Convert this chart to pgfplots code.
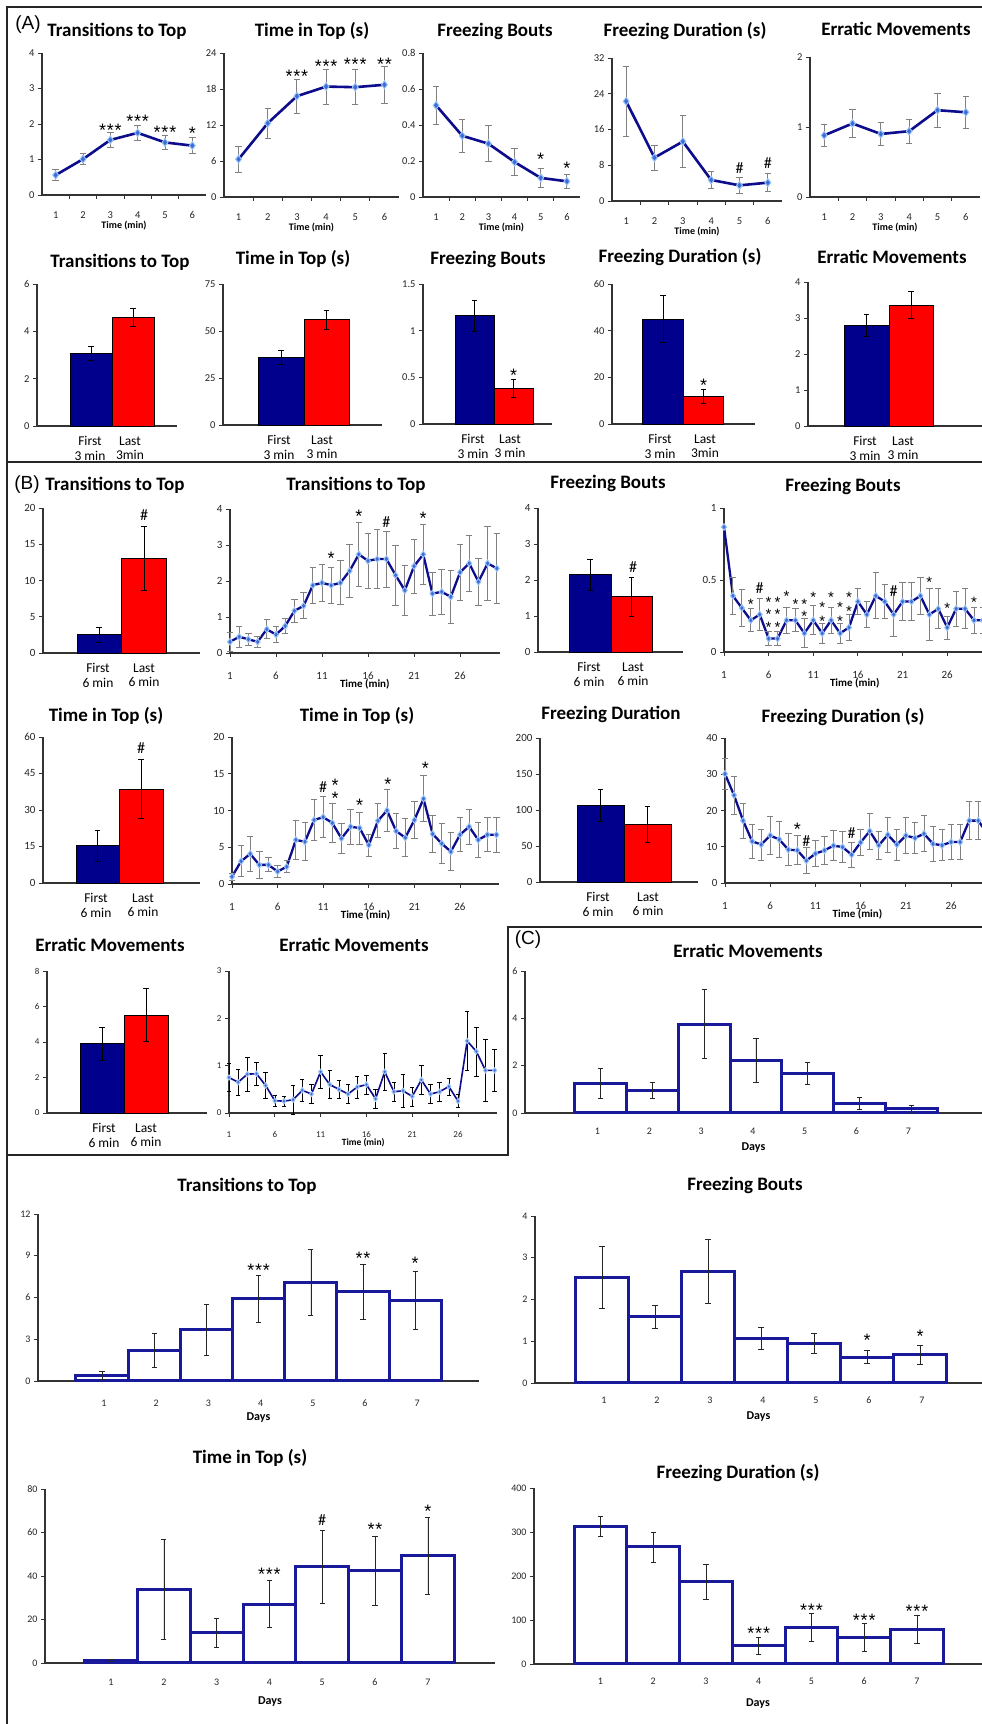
\documentclass[border=0pt]{standalone}
\usepackage{fontspec}
\setmainfont{Carlito}
\newfontfamily\arial{Liberation Sans}
\usepackage{pgfplots}
\pgfplotsset{compat=1.18}
\definecolor{navy}{RGB}{12,12,140}
\definecolor{mk}{RGB}{55,110,215}
\definecolor{mkglow}{RGB}{160,195,245}
\definecolor{barblue}{RGB}{0,0,140}
\definecolor{cblue}{RGB}{25,25,155}
\newcommand{\threestar}{*\kern0.8pt*\kern0.8pt*}
\newcommand{\twostar}{*\kern0.8pt*}
\tikzset{
  ttl/.style={font=\bfseries\fontsize{19}{21}\selectfont, inner sep=0pt},
  st/.style={font=\arial\fontsize{18}{18}\selectfont, inner sep=0pt, yshift=-3.5pt},
  sts/.style={font=\arial\fontsize{15}{15}\selectfont, inner sep=0pt, yshift=-3pt},
  hs/.style={font=\fontsize{16}{16}\selectfont, inner sep=0pt},
  frame/.style={line width=2.6pt, black!85},
}
\pgfplotsset{
  base/.style={scale only axis, anchor=south west,
    axis x line*=bottom, axis y line*=left,
    axis line style={line width=1.1pt, black!80},
    every tick/.append style={line width=0.9pt, black!80},
    tick align=outside, major tick length=4pt, minor tick length=4pt,
    ymin=0, clip=false,
    ticklabel style={font=\fontsize{10.5}{12}\selectfont, text=black!85},
    /pgf/number format/assume math mode=true,
    xlabel style={font=\bfseries\fontsize{10}{12}\selectfont, at={(axis description cs:0.5,0)}, anchor=center},
  },
  cat6/.style={xmin=0.5, xmax=6.5, xtick={1,2,3,4,5,6},
    minor xtick={1.5,2.5,3.5,4.5,5.5}, major x tick style={draw=none},
    xlabel={Time (min)}, xlabel style={yshift=-31pt},
    xticklabel style={anchor=center, yshift=-16pt}},
  min30/.style={xmin=1, xmax=30.3, xtick={1,6,11,16,21,26},
    xlabel={Time (min)}, xlabel style={yshift=-31pt, font=\bfseries\fontsize{11}{12}\selectfont},
    ticklabel style={font=\fontsize{11}{12}\selectfont},
    xticklabel style={anchor=center, yshift=-19pt}},
  bars/.style={xmin=0, major x tick style={draw=none},
    xticklabel style={align=center, anchor=north, font=\fontsize{13.5}{14.5}\selectfont, text=black, yshift=-3pt}},
  days/.style={xmin=0, major x tick style={draw=none}, xticklabels={1,2,3,4,5,6,7},
    xlabel={Days}, xlabel style={font=\bfseries\fontsize{12}{14}\selectfont},
    ticklabel style={font=\fontsize{10}{12}\selectfont}, xticklabel style={anchor=center}},
  lp/.style={navy, line width=2.6pt, mark=diamond*, mark size=3.9pt,
    mark options={fill=mk, draw=mkglow, line width=1pt},
    error bars/y dir=both, error bars/y explicit,
    error bars/error bar style={black!50, line width=0.9pt},
    error bars/error mark options={rotate=90, black!50, line width=0.9pt, mark size=3.2pt}},
  bp/.style={ybar, bar shift=0pt, draw=black, line width=0.9pt,
    error bars/y dir=both, error bars/y explicit,
    error bars/error bar style={black, line width=0.7pt},
    error bars/error mark options={rotate=90, black, line width=0.7pt, mark size=2.6pt}},
  dp/.style={ybar, bar shift=0pt, fill=white, draw=cblue, line width=3pt,
    error bars/y dir=both, error bars/y explicit,
    error bars/error bar style={black!85, line width=0.6pt},
    error bars/error mark options={rotate=90, black!85, line width=0.6pt, mark size=2.6pt}},
}
\begin{document}
\begin{tikzpicture}
\useasboundingbox (0,0) rectangle (982pt,1724pt);
\clip (0,0) rectangle (982pt,1724pt);
\fill[white] (0,0) rectangle (982pt,1724pt);

% ================= PANEL A, row 1 =================
\begin{axis}[base, cat6, at={(42pt,1529pt)}, width=164pt, height=142pt, ymax=4, ytick={0,1,2,3,4}]
\addplot[lp] coordinates {(1,0.56)+-(0,0.16) (2,1.01)+-(0,0.16) (3,1.55)+-(0,0.2) (4,1.75)+-(0,0.22) (5,1.48)+-(0,0.2) (6,1.39)+-(0,0.22)};
\node[st] at (axis cs:3,1.92) {\threestar};
\node[st] at (axis cs:4,2.18) {\threestar};
\node[st] at (axis cs:5,1.87) {\threestar};
\node[st] at (axis cs:6,1.83) {*};
\end{axis}
\begin{axis}[base, cat6, at={(224pt,1527pt)}, width=175pt, height=144pt, ymax=24, ytick={0,6,12,18,24}]
\addplot[lp] coordinates {(1,6.3)+-(0,2.2) (2,12.3)+-(0,2.5) (3,16.8)+-(0,2.8) (4,18.4)+-(0,2.9) (5,18.3)+-(0,2.9) (6,18.7)+-(0,3.1)};
\node[st] at (axis cs:3,20.7) {\threestar};
\node[st] at (axis cs:4,22.3) {\threestar};
\node[st] at (axis cs:5,22.7) {\threestar};
\node[st] at (axis cs:6,22.7) {\twostar};
\end{axis}
\begin{axis}[base, cat6, at={(423pt,1527pt)}, width=157pt, height=144pt, ymax=0.8, ytick={0,0.2,0.4,0.6,0.8}]
\addplot[lp] coordinates {(1,0.509)+-(0,0.105) (2,0.34)+-(0,0.09) (3,0.296)+-(0,0.1) (4,0.194)+-(0,0.075) (5,0.106)+-(0,0.055) (6,0.087)+-(0,0.04)};
\node[st] at (axis cs:5,0.226) {*};
\node[st] at (axis cs:6,0.176) {*};
\end{axis}
\begin{axis}[base, cat6, at={(612pt,1523pt)}, width=170pt, height=143pt, ymax=32, ytick={0,8,16,24,32}]
\addplot[lp] coordinates {(1,22.3)+-(0,7.8) (2,9.7)+-(0,2.8) (3,13.3)+-(0,5.8) (4,4.7)+-(0,1.8) (5,3.5)+-(0,1.8) (6,4.1)+-(0,2.0)};
\node[hs] at (axis cs:5,7.3) {\#};
\node[hs] at (axis cs:6,8.4) {\#};
\end{axis}
\begin{axis}[base, cat6, at={(810pt,1527pt)}, width=170pt, height=140pt, ymax=2, ytick={0,1,2}]
\addplot[lp] coordinates {(1,0.88)+-(0,0.155) (2,1.05)+-(0,0.2) (3,0.90)+-(0,0.17) (4,0.94)+-(0,0.17) (5,1.24)+-(0,0.24) (6,1.21)+-(0,0.23)};
\end{axis}

% ================= PANEL A, row 2 (bars) =================
\begin{axis}[base, bars, at={(37pt,1298pt)}, width=140pt, height=142pt, xmax=140, ymax=6, ytick={0,2,4,6},
  xtick={53,93}, xticklabels={{First\\3 min},{Last\\3min}}]
\addplot[bp, fill=barblue, bar width=42] coordinates {(54,3.07)+-(0,0.31)};
\addplot[bp, fill=red, bar width=42] coordinates {(96,4.59)+-(0,0.40)};
\end{axis}
\begin{axis}[base, bars, at={(223pt,1299pt)}, width=159pt, height=141pt, xmax=159, ymax=75, ytick={0,25,50,75},
  xtick={56,99}, xticklabels={{First\\3 min},{Last\\3 min}}]
\addplot[bp, fill=barblue, bar width=46] coordinates {(58,36.0)+-(0,3.9)};
\addplot[bp, fill=red, bar width=45] coordinates {(103.5,55.9)+-(0,5.0)};
\end{axis}
\begin{axis}[base, bars, at={(423pt,1300pt)}, width=129pt, height=140pt, xmax=129, ymax=1.5, ytick={0,0.5,1,1.5},
  xtick={50,87}, xticklabels={{First\\3 min},{Last\\3 min}}]
\addplot[bp, fill=barblue, bar width=39] coordinates {(51.5,1.158)+-(0,0.165)};
\addplot[bp, fill=red, bar width=39] coordinates {(90.5,0.385)+-(0,0.096)};
\node[st] at (axis cs:90.5,0.557) {*};
\end{axis}
\begin{axis}[base, bars, at={(612pt,1300pt)}, width=143pt, height=140pt, xmax=143, ymax=60, ytick={0,20,40,60},
  xtick={48,93}, xticklabels={{First\\3 min},{Last\\3min}}]
\addplot[bp, fill=barblue, bar width=40.5] coordinates {(51,45)+-(0,10)};
\addplot[bp, fill=red, bar width=40.5] coordinates {(91.5,12)+-(0,3)};
\node[st] at (axis cs:91.5,18) {*};
\end{axis}
\begin{axis}[base, bars, at={(808pt,1298pt)}, width=174pt, height=144pt, xmax=174, ymax=4, ytick={0,1,2,3,4},
  xtick={57,95}, xticklabels={{First\\3 min},{Last\\3 min}}]
\addplot[bp, fill=barblue, bar width=45] coordinates {(58.5,2.80)+-(0,0.30)};
\addplot[bp, fill=red, bar width=44] coordinates {(103,3.36)+-(0,0.37)};
\end{axis}

% ================= PANEL B, row 1 =================
\begin{axis}[base, bars, at={(43pt,1071pt)}, width=157pt, height=145pt, xmax=157, ymax=20, ytick={0,5,10,15,20},
  ticklabel style={font=\fontsize{11}{12}\selectfont},
  xtick={55,101}, xticklabels={{First\\6 min},{Last\\6 min}}]
\addplot[bp, fill=barblue, bar width=44] coordinates {(56,2.53)+-(0,1.0)};
\addplot[bp, fill=red, bar width=45] coordinates {(101,13.0)+-(0,4.4)};
\node[hs] at (axis cs:101,19.0) {\#};
\end{axis}
\begin{axis}[base, min30, at={(230pt,1071pt)}, width=269.6pt, height=144pt, ymax=4, ytick={0,1,2,3,4}]
\addplot[lp, line width=2.3pt, mark size=3.3pt] coordinates {(1,0.31)+-(0,0.26) (2,0.45)+-(0,0.3) (3,0.38)+-(0,0.17) (4,0.31)+-(0,0.15) (5,0.66)+-(0,0.27) (6,0.51)+-(0,0.22) (7,0.75)+-(0,0.22) (8,1.17)+-(0,0.33) (9,1.31)+-(0,0.36) (10,1.88)+-(0,0.51) (11,1.95)+-(0,0.51) (12,1.88)+-(0,0.51) (13,1.95)+-(0,0.61) (14,2.28)+-(0,0.74) (15,2.74)+-(0,0.88) (16,2.56)+-(0,0.76) (17,2.61)+-(0,0.83) (18,2.61)+-(0,0.78) (19,2.16)+-(0,0.84) (20,1.74)+-(0,0.7) (21,2.41)+-(0,0.75) (22,2.74)+-(0,0.83) (23,1.65)+-(0,0.6) (24,1.70)+-(0,0.62) (25,1.56)+-(0,0.74) (26,2.24)+-(0,0.78) (27,2.49)+-(0,0.78) (28,1.98)+-(0,0.65) (29,2.49)+-(0,1.02) (30,2.35)+-(0,0.97)};
\node[st] at (axis cs:12,2.72) {*};
\node[st] at (axis cs:15,3.89) {*};
\node[hs] at (axis cs:18,3.64) {\#};
\node[st] at (axis cs:22,3.83) {*};
\end{axis}
\begin{axis}[base, bars, at={(538pt,1072pt)}, width=145pt, height=144pt, xmax=145, ymax=4, ytick={0,1,2,3,4},
  ticklabel style={font=\fontsize{11}{12}\selectfont},
  xtick={51,95}, xticklabels={{First\\6 min},{Last\\6 min}}]
\addplot[bp, fill=barblue, bar width=42] coordinates {(52,2.14)+-(0,0.44)};
\addplot[bp, fill=red, bar width=41] coordinates {(93.5,1.53)+-(0,0.54)};
\node[hs] at (axis cs:95,2.36) {\#};
\end{axis}
\begin{axis}[base, min30, at={(724pt,1072pt)}, width=261.6pt, height=144pt, ymax=1, ytick={0,0.5,1}]
\addplot[lp, line width=2.3pt, mark size=3.3pt] coordinates {(1,0.868)+-(0,0) (2,0.39)+-(0,0.13) (3,0.305)+-(0,0.13) (4,0.22)+-(0,0.08) (5,0.26)+-(0,0.11) (6,0.093)+-(0,0.05) (7,0.093)+-(0,0.05) (8,0.22)+-(0,0.09) (9,0.22)+-(0,0.08) (10,0.13)+-(0,0.1) (11,0.22)+-(0,0.1) (12,0.13)+-(0,0.07) (13,0.22)+-(0,0.09) (14,0.13)+-(0,0.07) (15,0.17)+-(0,0.09) (16,0.35)+-(0,0.09) (17,0.26)+-(0,0.09) (18,0.39)+-(0,0.16) (19,0.35)+-(0,0.12) (20,0.26)+-(0,0.15) (21,0.35)+-(0,0.13) (22,0.35)+-(0,0.13) (23,0.39)+-(0,0.13) (24,0.26)+-(0,0.18) (25,0.30)+-(0,0.14) (26,0.17)+-(0,0.08) (27,0.30)+-(0,0.12) (28,0.30)+-(0,0.14) (29,0.22)+-(0,0.09) (30,0.22)+-(0,0.09)};
\node[hs] at (axis cs:5,0.444) {\#};
\node[sts] at (axis cs:4,0.352) {*};
\node[sts] at (axis cs:6,0.363) {*};
\node[sts] at (axis cs:6,0.282) {*};
\node[sts] at (axis cs:6,0.190) {*};
\node[sts] at (axis cs:7,0.363) {*};
\node[sts] at (axis cs:7,0.282) {*};
\node[sts] at (axis cs:7,0.190) {*};
\node[sts] at (axis cs:8,0.41) {*};
\node[sts] at (axis cs:9,0.352) {*};
\node[sts] at (axis cs:10,0.352) {*};
\node[sts] at (axis cs:10,0.271) {*};
\node[sts] at (axis cs:11,0.403) {*};
\node[sts] at (axis cs:12,0.329) {*};
\node[sts] at (axis cs:12,0.236) {*};
\node[sts] at (axis cs:13,0.398) {*};
\node[sts] at (axis cs:14,0.329) {*};
\node[sts] at (axis cs:14,0.236) {*};
\node[sts] at (axis cs:15,0.403) {*};
\node[sts] at (axis cs:15,0.306) {*};
\node[hs] at (axis cs:20,0.426) {\#};
\node[sts] at (axis cs:24,0.502) {*};
\node[sts] at (axis cs:26,0.324) {*};
\node[sts] at (axis cs:29,0.363) {*};
\end{axis}

% ================= PANEL B, row 2 =================
\begin{axis}[base, bars, at={(43pt,841pt)}, width=157pt, height=146pt, xmax=157, ymax=60, ytick={0,15,30,45,60},
  ticklabel style={font=\fontsize{11}{12}\selectfont},
  xtick={53,100}, xticklabels={{First\\6 min},{Last\\6 min}}]
\addplot[bp, fill=barblue, bar width=43] coordinates {(54.5,15.3)+-(0,6.5)};
\addplot[bp, fill=red, bar width=44] coordinates {(98,38.6)+-(0,12.1)};
\node[hs] at (axis cs:98,55.5) {\#};
\end{axis}
\begin{axis}[base, min30, at={(232pt,840pt)}, width=267.2pt, height=147pt, ymax=20, ytick={0,5,10,15,20}]
\addplot[lp, line width=2.3pt, mark size=3.3pt] coordinates {(1,1.0)+-(0,0.5) (2,3.1)+-(0,2.1) (3,4.1)+-(0,2.4) (4,2.6)+-(0,1.8) (5,2.6)+-(0,0.95) (6,1.7)+-(0,0.85) (7,2.35)+-(0,0.8) (8,6.0)+-(0,2.6) (9,5.75)+-(0,2.6) (10,8.7)+-(0,2.8) (11,9.1)+-(0,2.8) (12,8.3)+-(0,2.7) (13,6.2)+-(0,2.1) (14,7.8)+-(0,2.4) (15,7.6)+-(0,2.2) (16,5.3)+-(0,1.5) (17,8.6)+-(0,2.3) (18,10.0)+-(0,2.8) (19,7.2)+-(0,2.4) (20,6.3)+-(0,2.6) (21,8.7)+-(0,2.5) (22,11.6)+-(0,3.1) (23,6.8)+-(0,2.5) (24,5.5)+-(0,2.7) (25,4.4)+-(0,2.6) (26,6.7)+-(0,2.3) (27,7.8)+-(0,2.4) (28,6.0)+-(0,2.4) (29,6.7)+-(0,2.3) (30,6.7)+-(0,2.4)};
\node[hs] at (axis cs:11,13.2) {\#};
\node[st] at (axis cs:12.3,13.9) {*};
\node[st] at (axis cs:12.3,12.1) {*};
\node[st] at (axis cs:15,11.2) {*};
\node[st] at (axis cs:18.1,14.0) {*};
\node[st] at (axis cs:22.2,16.2) {*};
\end{axis}
\begin{axis}[base, bars, at={(540pt,842pt)}, width=158pt, height=144pt, xmax=158, ymax=200, ytick={0,50,100,150,200},
  ticklabel style={font=\fontsize{11}{12}\selectfont},
  xtick={58,108}, xticklabels={{First\\6 min},{Last\\6 min}}]
\addplot[bp, fill=barblue, bar width=47] coordinates {(60.5,106)+-(0,22)};
\addplot[bp, fill=red, bar width=47] coordinates {(107.5,79.6)+-(0,25)};
\end{axis}
\begin{axis}[base, min30, at={(725pt,841pt)}, width=265pt, height=145pt, ymax=40, ytick={0,10,20,30,40}]
\addplot[lp, line width=2.3pt, mark size=3.3pt] coordinates {(1,30.1)+-(0,4.3) (2,24.2)+-(0,5.3) (3,17.2)+-(0,4.8) (4,11.5)+-(0,4.6) (5,10.6)+-(0,4.3) (6,13.1)+-(0,5.2) (7,12.0)+-(0,5) (8,9.2)+-(0,4.4) (9,9.0)+-(0,4) (10,6.2)+-(0,3.5) (11,8.1)+-(0,3.6) (12,9.0)+-(0,3.9) (13,10.3)+-(0,4.2) (14,9.9)+-(0,4.3) (15,7.8)+-(0,3.5) (16,11.2)+-(0,3.7) (17,14.3)+-(0,5) (18,10.4)+-(0,3.9) (19,13.3)+-(0,4.9) (20,10.6)+-(0,4.3) (21,13.1)+-(0,5) (22,12.4)+-(0,4.3) (23,13.6)+-(0,5) (24,10.8)+-(0,4.8) (25,10.4)+-(0,4.3) (26,11.3)+-(0,4.8) (27,11.3)+-(0,4.8) (28,17.2)+-(0,5.3) (29,17.2)+-(0,5.3) (30,13.6)+-(0,5)};
\node[st] at (axis cs:9,15.7) {*};
\node[hs] at (axis cs:10,11.6) {\#};
\node[hs] at (axis cs:15,13.8) {\#};
\end{axis}

% ================= PANEL B, row 3 =================
\begin{axis}[base, bars, at={(47pt,611pt)}, width=160pt, height=142pt, xmax=160, ymax=8, ytick={0,2,4,6,8},
  ticklabel style={font=\fontsize{9}{10}\selectfont},
  xtick={57,99}, xticklabels={{First\\6 min},{Last\\6 min}}]
\addplot[bp, fill=barblue, bar width=44] coordinates {(55,3.89)+-(0,0.92)};
\addplot[bp, fill=red, bar width=44] coordinates {(99,5.51)+-(0,1.5)};
\end{axis}
\begin{axis}[base, min30, at={(229pt,611pt)}, width=268.4pt, height=142pt, ymax=3, ytick={0,1,2,3},
  ticklabel style={font=\fontsize{9}{10}\selectfont},
  xlabel style={font=\bfseries\fontsize{9.5}{11}\selectfont, yshift=1pt}, xticklabel style={yshift=1pt}]
\addplot[lp, line width=1.6pt, mark size=2.6pt, error bars/error bar style={black, line width=0.6pt},
  error bars/error mark options={rotate=90, black, line width=0.6pt, mark size=2.2pt}] coordinates {(1,0.75)+-(0,0.3) (2,0.65)+-(0,0.28) (3,0.82)+-(0,0.36) (4,0.83)+-(0,0.25) (5,0.58)+-(0,0.28) (6,0.26)+-(0,0.12) (7,0.25)+-(0,0.1) (8,0.28)+-(0,0.3) (9,0.48)+-(0,0.23) (10,0.40)+-(0,0.2) (11,0.87)+-(0,0.35) (12,0.60)+-(0,0.3) (13,0.50)+-(0,0.2) (14,0.40)+-(0,0.2) (15,0.55)+-(0,0.23) (16,0.60)+-(0,0.2) (17,0.30)+-(0,0.2) (18,0.87)+-(0,0.4) (19,0.45)+-(0,0.2) (20,0.47)+-(0,0.35) (21,0.35)+-(0,0.2) (22,0.70)+-(0,0.3) (23,0.40)+-(0,0.2) (24,0.45)+-(0,0.2) (25,0.56)+-(0,0.18) (26,0.25)+-(0,0.14) (27,1.52)+-(0,0.62) (28,1.30)+-(0,0.52) (29,0.90)+-(0,0.65) (30,0.90)+-(0,0.45)};
\end{axis}

% ================= PANEL C =================
\begin{axis}[base, days, at={(525pt,611pt)}, width=457pt, height=142pt, xmax=457, ymax=6, ytick={0,2,4,6},
  xtick={72.5,124.3,176.1,227.9,279.7,331.5,383.3}, xlabel style={yshift=-35pt}, xticklabel style={yshift=-14pt}]
\addplot[dp, bar width=51.8] coordinates {(75.5,1.26)+-(0,0.64) (127.3,0.94)+-(0,0.34) (179.1,3.76)+-(0,1.47) (230.9,2.22)+-(0,0.94) (282.7,1.68)+-(0,0.48) (334.5,0.42)+-(0,0.25) (386.3,0.18)+-(0,0.14)};
\end{axis}
\begin{axis}[base, days, at={(38pt,343pt)}, width=441pt, height=167pt, xmax=441, ymax=12, ytick={0,3,6,9,12},
  xtick={66,118.2,170.4,222.6,274.8,327,379.2}, xlabel style={yshift=-37pt}, xticklabel style={yshift=-18pt}]
\addplot[dp, bar width=52.2] coordinates {(64,0.41)+-(0,0.3) (116.2,2.21)+-(0,1.2) (168.4,3.70)+-(0,1.82) (220.6,5.93)+-(0,1.68) (272.8,7.08)+-(0,2.38) (325,6.41)+-(0,1.97) (377.2,5.81)+-(0,2.09)};
\node[st] at (axis cs:220.6,8.19) {\threestar};
\node[st] at (axis cs:325,9.05) {\twostar};
\node[st] at (axis cs:377.2,8.69) {*};
\end{axis}
\begin{axis}[base, days, at={(535pt,341pt)}, width=447pt, height=167pt, xmax=447, ymax=4, ytick={0,1,2,3,4},
  xtick={69,122,175,228,281,334,387}, xlabel style={yshift=-34pt}, xticklabel style={yshift=-13pt}]
\addplot[dp, bar width=53] coordinates {(67,2.53)+-(0,0.75) (120,1.59)+-(0,0.27) (173,2.68)+-(0,0.77) (226,1.07)+-(0,0.26) (279,0.95)+-(0,0.25) (332,0.62)+-(0,0.16) (385,0.68)+-(0,0.23)};
\node[st] at (axis cs:332,1.10) {*};
\node[st] at (axis cs:385,1.20) {*};
\end{axis}
\begin{axis}[base, days, at={(45pt,61pt)}, width=450pt, height=174pt, xmax=450, ymax=80, ytick={0,20,40,60,80},
  xtick={66,118.8,171.6,224.4,277.2,330,382.8}, xlabel style={yshift=-39pt}, xticklabel style={yshift=-15pt}]
\addplot[dp, bar width=52.8] coordinates {(66,1.2)+-(0,0.5) (118.8,33.9)+-(0,23) (171.6,13.8)+-(0,6.6) (224.4,27.0)+-(0,10.8) (277.2,44.2)+-(0,16.9) (330,42.4)+-(0,16) (382.8,49.2)+-(0,17.8)};
\node[st] at (axis cs:224.4,42.3) {\threestar};
\node[hs] at (axis cs:277.2,65.7) {\#};
\node[st] at (axis cs:330,63.0) {\twostar};
\node[st] at (axis cs:382.8,71.3) {*};
\end{axis}
\begin{axis}[base, days, at={(534pt,60pt)}, width=448pt, height=176pt, xmax=448, ymax=400, ytick={0,100,200,300,400},
  xtick={66.5,119.25,172,224.75,277.5,330.25,383}, xlabel style={yshift=-40pt}, xticklabel style={yshift=-13pt}]
\addplot[dp, bar width=52.75] coordinates {(66.5,313)+-(0,22) (119.25,266)+-(0,34) (172,187)+-(0,39) (224.75,41.7)+-(0,20) (277.5,83.3)+-(0,31) (330.25,60.6)+-(0,31) (383,79.5)+-(0,32)};
\node[st] at (axis cs:224.75,77) {\threestar};
\node[st] at (axis cs:277.5,129.5) {\threestar};
\node[st] at (axis cs:330.25,106.8) {\threestar};
\node[st] at (axis cs:383,127) {\threestar};
\end{axis}

% ================= titles =================
\node[ttl] at (117pt,1693pt) {Transitions to Top};
\node[ttl] at (312pt,1693pt) {Time in Top (s)};
\node[ttl] at (495pt,1693pt) {Freezing Bouts};
\node[ttl] at (685pt,1693pt) {Freezing Duration (s)};
\node[ttl] at (896pt,1695pt) {Erratic Movements};
\node[ttl] at (120pt,1462pt) {Transitions to Top};
\node[ttl] at (293pt,1465pt) {Time in Top (s)};
\node[ttl] at (488pt,1465pt) {Freezing Bouts};
\node[ttl] at (680pt,1467pt) {Freezing Duration (s)};
\node[ttl] at (892pt,1467pt) {Erratic Movements};
\node[ttl] at (115pt,1239pt) {Transitions to Top};
\node[ttl] at (356pt,1239pt) {Transitions to Top};
\node[ttl] at (608pt,1241pt) {Freezing Bouts};
\node[ttl] at (843pt,1238pt) {Freezing Bouts};
\node[ttl] at (106pt,1008pt) {Time in Top (s)};
\node[ttl] at (357pt,1008pt) {Time in Top (s)};
\node[ttl] at (611pt,1010pt) {Freezing Duration};
\node[ttl] at (843pt,1007pt) {Freezing Duration (s)};
\node[ttl] at (110pt,779pt) {Erratic Movements};
\node[ttl] at (354pt,779pt) {Erratic Movements};
\node[ttl] at (748pt,773pt) {Erratic Movements};
\node[ttl] at (247pt,538pt) {Transitions to Top};
\node[ttl] at (745pt,539pt) {Freezing Bouts};
\node[ttl] at (250pt,266pt) {Time in Top (s)};
\node[ttl] at (738pt,251pt) {Freezing Duration (s)};
\node[font=\arial\fontsize{19}{20}\selectfont, inner sep=0pt] at (28pt,1699pt) {(A)};
\node[font=\arial\fontsize{19}{20}\selectfont, inner sep=0pt] at (27pt,1239pt) {(B)};
\node[font=\arial\fontsize{19}{20}\selectfont, inner sep=0pt] at (528pt,784pt) {(C)};

% ================= frames =================
\draw[frame] (7pt,0pt) -- (7pt,1717pt) -- (982pt,1717pt);
\draw[frame] (7pt,1262pt) -- (982pt,1262pt);
\draw[frame] (7pt,569pt) -- (508pt,569pt) -- (508pt,797pt) -- (982pt,797pt);
\end{tikzpicture}
\end{document}
